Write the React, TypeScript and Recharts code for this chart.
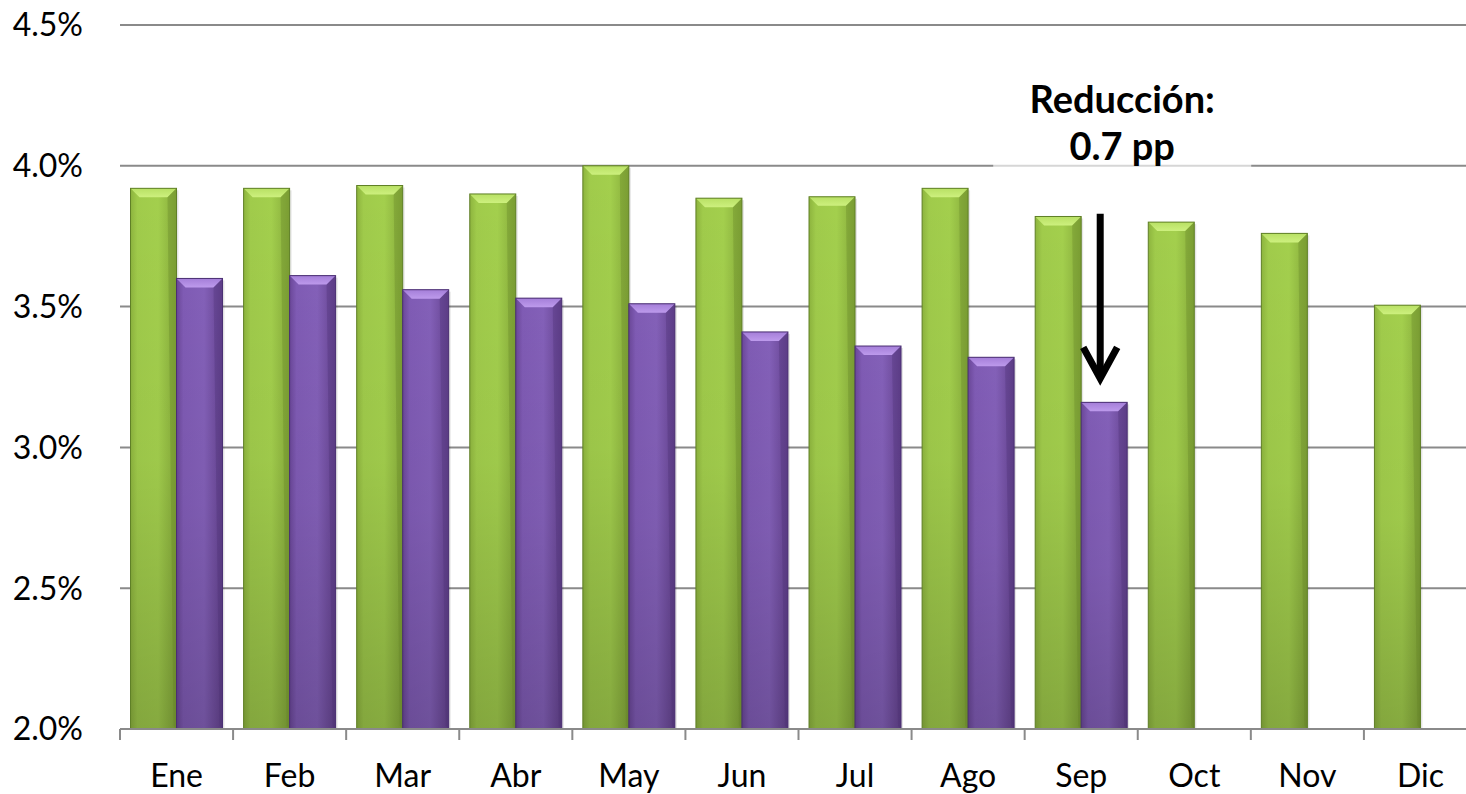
import React from 'react';
import { BarChart, Bar, XAxis, YAxis, CartesianGrid, ReferenceLine, ReferenceDot } from 'recharts';

const months = ['Ene', 'Feb', 'Mar', 'Abr', 'May', 'Jun', 'Jul', 'Ago', 'Sep', 'Oct', 'Nov', 'Dic'];
const seriesPrev = [3.92, 3.92, 3.93, 3.90, 4.0, 3.885, 3.89, 3.92, 3.82, 3.80, 3.76, 3.505];
const seriesCurr: (number | null)[] = [3.60, 3.61, 3.56, 3.53, 3.51, 3.41, 3.36, 3.32, 3.16, null, null, null];
const yTicks = [2.0, 2.5, 3.0, 3.5, 4.0, 4.5];
const annotationLines = ['Reducción:', '0.7 pp'];
const arrowFrom = 3.83;
const arrowTo = 3.245;

const data = months.map((m, i) => ({ month: m, prev: seriesPrev[i], curr: seriesCurr[i] }));

const FONT = 'Lato, "Open Sans", sans-serif';

const makeBar = (id: string, light: string, dark: string) => (props: any) => {
  const { x, y, width, height } = props;
  if (height == null || !(height > 0)) return null;
  const b = Math.min(9, width / 4, height / 2);
  return (
    <g>
      <rect x={x + 2} y={y + 2} width={width} height={height} fill="rgba(0,0,0,0.10)" />
      <rect x={x} y={y} width={width} height={height} fill={`url(#${id}-body)`} />
      <rect x={x} y={y} width={width} height={height} fill={`url(#${id}-shade)`} />
      <polygon
        points={`${x},${y} ${x + width},${y} ${x + width - b},${y + b} ${x + b},${y + b}`}
        fill={`url(#${id}-top)`}
      />
      <polygon
        points={`${x + width},${y} ${x + width},${y + height} ${x + width - 3},${y + height - 3} ${x + width - b},${y + b}`}
        fill={dark}
        opacity={0.3}
      />
      <rect x={x} y={y} width={width} height={height} fill="none" stroke={dark} strokeWidth={1} />
    </g>
  );
};

const GreenBar = makeBar('g', '#c4ea74', '#5f7f26');
const PurpleBar = makeBar('p', '#b592e6', '#4a2f72');

const XTick = (props: any) => {
  const { x, y, payload } = props;
  const half = payload && payload.offset ? payload.offset : 56.5;
  return (
    <g>
      <line x1={x - half} x2={x - half} y1={y - 11} y2={y} stroke="#8a8a8a" strokeWidth={2} />
      <text x={x} y={y + 47} textAnchor="middle" fontSize={32} fontFamily={FONT} fill="#000">
        {payload.value}
      </text>
    </g>
  );
};

const ArrowShape = (props: any) => {
  const { x1, y1, x2, y2 } = props;
  if (x1 == null) return null;
  const dx = 19;
  const ax = x1 + dx;
  return (
    <g>
      <line x1={ax} y1={y1} x2={ax} y2={y2 - 4} stroke="#000" strokeWidth={7} />
      <polyline
        points={`${ax - 17},${y2 - 31} ${ax},${y2} ${ax + 17},${y2 - 31}`}
        fill="none"
        stroke="#000"
        strokeWidth={7}
        strokeLinejoin="miter"
      />
    </g>
  );
};

const LabelShape = (props: any) => {
  const { cx, cy } = props;
  if (cx == null) return null;
  const tx = cx + 41;
  return (
    <g>
      <rect x={tx - 129} y={cy - 40} width={258} height={100} fill="#fff" opacity={0.65} />
      <text x={tx} y={cy - 2} textAnchor="middle" fontSize={38} fontWeight={700} fontFamily={FONT} fill="#000">
        {annotationLines[0]}
      </text>
      <text x={tx} y={cy + 45} textAnchor="middle" fontSize={38} fontWeight={700} fontFamily={FONT} fill="#000">
        {annotationLines[1]}
      </text>
    </g>
  );
};

export default function App() {
  return (
    <div style={{ position: 'absolute', left: 0, top: 0, width: 1466, height: 794, overflow: 'hidden', background: '#fff' }}>
      <BarChart
        width={1480}
        height={794}
        data={data}
        margin={{ top: 25, right: 3, bottom: 0, left: 0 }}
        barCategoryGap="9.3%"
        barGap={0}
        style={{ fontFamily: FONT }}
      >
        <defs>
          <linearGradient id="g-body" x1="0" y1="0" x2="1" y2="0">
            <stop offset="0" stopColor="#8db43e" />
            <stop offset="0.15" stopColor="#a0cb4b" />
            <stop offset="0.6" stopColor="#a3cf4d" />
            <stop offset="1" stopColor="#86ab3a" />
          </linearGradient>
          <linearGradient id="g-shade" x1="0" y1="0" x2="0" y2="1">
            <stop offset="0" stopColor="#000" stopOpacity={0} />
            <stop offset="0.5" stopColor="#000" stopOpacity={0.03} />
            <stop offset="1" stopColor="#000" stopOpacity={0.18} />
          </linearGradient>
          <linearGradient id="g-top" x1="0" y1="0" x2="0" y2="1">
            <stop offset="0" stopColor="#b8e064" />
            <stop offset="1" stopColor="#cdf07e" />
          </linearGradient>
          <linearGradient id="p-body" x1="0" y1="0" x2="1" y2="0">
            <stop offset="0" stopColor="#6a4798" />
            <stop offset="0.15" stopColor="#7f5bb4" />
            <stop offset="0.6" stopColor="#8360b8" />
            <stop offset="1" stopColor="#654390" />
          </linearGradient>
          <linearGradient id="p-shade" x1="0" y1="0" x2="0" y2="1">
            <stop offset="0" stopColor="#000" stopOpacity={0} />
            <stop offset="0.5" stopColor="#000" stopOpacity={0.04} />
            <stop offset="1" stopColor="#000" stopOpacity={0.16} />
          </linearGradient>
          <linearGradient id="p-top" x1="0" y1="0" x2="0" y2="1">
            <stop offset="0" stopColor="#a47ed8" />
            <stop offset="1" stopColor="#bd9aec" />
          </linearGradient>
        </defs>
        <CartesianGrid horizontal vertical={false} stroke="#8a8a8a" strokeWidth={2} />
        <XAxis
          dataKey="month"
          height={65}
          axisLine={{ stroke: '#8a8a8a', strokeWidth: 2 }}
          tickLine={false}
          tickSize={11}
          tickMargin={0}
          tick={<XTick />}
          interval={0}
        />
        <YAxis
          width={120}
          domain={[2, 4.5]}
          ticks={yTicks}
          axisLine={false}
          tickLine={false}
          tickSize={0}
          tickMargin={37}
          tick={{ fontSize: 32, fill: '#000', fontFamily: FONT }}
          tickFormatter={(v: number) => `${v.toFixed(1)}%`}
          allowDataOverflow
        />
        <Bar dataKey="prev" shape={GreenBar} isAnimationActive={false} />
        <Bar dataKey="curr" shape={PurpleBar} isAnimationActive={false} />
        <ReferenceDot x="Sep" y={4.18} r={0} shape={<LabelShape />} />
        <ReferenceLine
          segment={[{ x: 'Sep', y: arrowFrom }, { x: 'Sep', y: arrowTo }]}
          shape={<ArrowShape />}
        />
      </BarChart>
    </div>
  );
}
